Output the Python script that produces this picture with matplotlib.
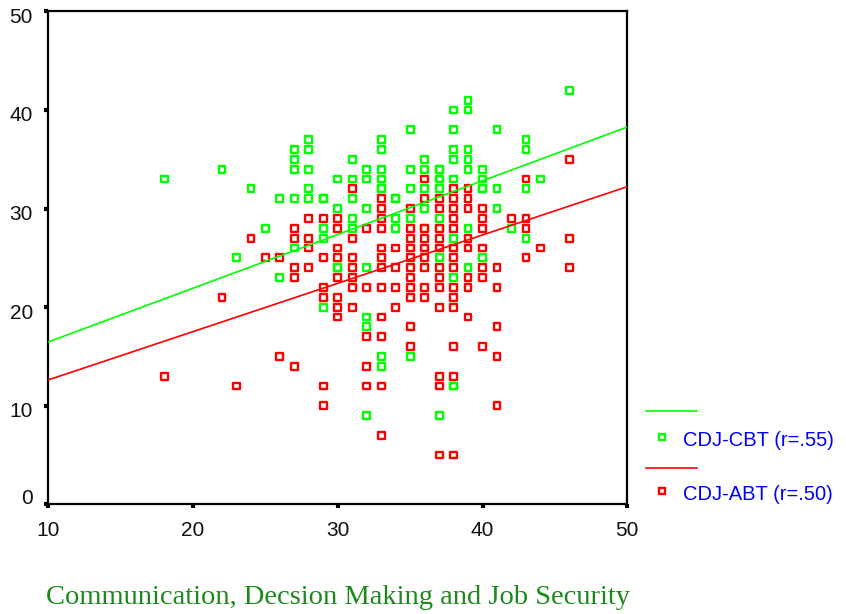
import matplotlib
matplotlib.use("Agg")
import matplotlib.pyplot as plt
import matplotlib.transforms as mtrans
from matplotlib.lines import Line2D
import numpy as np

# Communication, decision making and job security score (x) per group
cbt_x = [18, 22, 23, 24, 25, 26, 26,
         27, 27, 27, 27, 27, 28, 28, 28, 28, 28,
         29, 29, 29, 29, 29, 30, 30, 30, 30,
         31, 31, 31, 31, 31, 32, 32, 32, 32, 32, 32, 32,
         33, 33, 33, 33, 33, 33, 33, 33, 34, 34, 34, 34,
         35, 35, 35, 35, 35, 36, 36, 36, 36, 36,
         37, 37, 37, 37, 37, 37, 37, 37, 37,
         38, 38, 38, 38, 38, 38, 38, 38, 38,
         39, 39, 39, 39, 39, 39, 39, 40, 40, 40, 40, 40,
         41, 41, 41, 42, 43, 43, 43, 43, 44, 46]
cbt_y = [33, 34, 25, 32, 28, 31, 23,
         36, 35, 34, 31, 26, 37, 36, 34, 32, 31,
         31, 31, 28, 27, 20, 33, 30, 24, 24,
         35, 33, 31, 29, 28, 34, 33, 30, 24, 19, 18, 9,
         37, 36, 34, 33, 32, 32, 15, 14, 31, 31, 29, 28,
         38, 34, 32, 29, 15, 35, 34, 32, 30, 28,
         34, 34, 33, 33, 32, 29, 28, 25, 9,
         40, 38, 36, 35, 33, 27, 23, 12, 12,
         41, 40, 36, 35, 34, 28, 24, 34, 33, 32, 32, 25,
         38, 32, 30, 28, 37, 36, 32, 27, 33, 42]

abt_x = [18, 22, 23, 24, 25, 26, 26,
         27, 27, 27, 27, 27, 28, 28, 28, 28,
         29, 29, 29, 29, 29, 29,
         30, 30, 30, 30, 30, 30, 30, 30,
         31, 31, 31, 31, 31, 31, 31,
         32, 32, 32, 32, 32,
         33, 33, 33, 33, 33, 33, 33, 33, 33, 33, 33, 33,
         34, 34, 34, 34,
         35, 35, 35, 35, 35, 35, 35, 35, 35, 35, 35,
         36, 36, 36, 36, 36, 36, 36, 36, 36,
         37, 37, 37, 37, 37, 37, 37, 37, 37, 37, 37, 37,
         38, 38, 38, 38, 38, 38, 38, 38, 38, 38, 38, 38, 38, 38,
         39, 39, 39, 39, 39, 39, 39, 39,
         40, 40, 40, 40, 40, 40, 40,
         41, 41, 41, 41, 41, 42, 43, 43, 43, 43, 44, 46, 46, 46]
abt_y = [13, 21, 12, 27, 25, 25, 15,
         28, 27, 24, 23, 14, 29, 27, 26, 24,
         29, 25, 22, 21, 12, 10,
         29, 28, 26, 25, 23, 21, 20, 19,
         32, 27, 25, 24, 23, 22, 20,
         28, 22, 17, 14, 12,
         31, 30, 29, 28, 26, 25, 24, 22, 19, 17, 12, 7,
         26, 24, 22, 20,
         30, 28, 27, 26, 25, 24, 23, 22, 21, 18, 16,
         33, 31, 28, 27, 26, 25, 24, 22, 21,
         31, 30, 28, 27, 26, 24, 23, 22, 20, 13, 12, 5,
         32, 31, 30, 29, 28, 26, 25, 24, 22, 21, 20, 16, 13, 5,
         32, 31, 30, 27, 26, 23, 22, 19,
         30, 29, 28, 26, 24, 23, 16,
         24, 22, 18, 15, 10, 29, 33, 29, 28, 25, 26, 35, 27, 24]

# Fitted regression lines (intercept, slope)
cbt_fit = (11.02, 0.545)
abt_fit = (7.72, 0.49)

series_labels = ["CDJ-CBT (r=.55)", "CDJ-ABT (r=.50)"]
x_label = "Communication, Decsion Making and Job Security"
x_ticks = [10, 20, 30, 40, 50]
y_ticks = [0, 10, 20, 30, 40, 50]

GREEN = "#00ff00"
RED = "#ff0000"

W, H = 846, 614
fig = plt.figure(figsize=(W / 100, H / 100), dpi=100)
fig.patch.set_facecolor("white")


def fx(px):
    return px / W


def fy(py):
    return 1 - py / H


ax = fig.add_axes([fx(48.3), fy(504.3), fx(627.3) - fx(48.3), fy(11.4) - fy(504.3)])
ax.set_xlim(10, 50)
ax.set_ylim(0, 50)

msize = 24
ax.scatter(cbt_x, cbt_y, s=msize, marker="s", facecolors="none",
           edgecolors=GREEN, linewidths=1.7, zorder=3, clip_on=False)
ax.scatter(abt_x, abt_y, s=msize, marker="s", facecolors="none",
           edgecolors=RED, linewidths=1.7, zorder=4, clip_on=False)

xs = np.array([10, 50])
ax.plot(xs, cbt_fit[0] + cbt_fit[1] * xs, color=GREEN, lw=1.2, zorder=5)
ax.plot(xs, abt_fit[0] + abt_fit[1] * xs, color=RED, lw=1.2, zorder=5)

for sp in ax.spines.values():
    sp.set_linewidth(1.6)
    sp.set_color("black")

ax.set_xticks(x_ticks)
ax.set_yticks(y_ticks)
ax.set_xticklabels([str(v) for v in x_ticks])
ax.set_yticklabels([str(v) for v in y_ticks])
ax.tick_params(direction="out", length=3, width=3, color="black",
               labelsize=15, labelcolor="#111111")
ax.tick_params(axis="y", pad=8)
ax.tick_params(axis="x", pad=9)
for lab in ax.get_xticklabels() + ax.get_yticklabels():
    lab.set_family(["Liberation Sans", "DejaVu Sans"])

# y labels sit a little below their ticks; the zero label is lifted clear of the x labels
ylabs = ax.get_yticklabels()
for i, lab in enumerate(ylabs):
    dy = 8 if i == 0 else -4
    lab.set_transform(lab.get_transform() +
                      mtrans.ScaledTranslation(0, dy / 100, fig.dpi_scale_trans))

# legend drawn beside the plot
leg_items = [(411, 437, 441, GREEN, series_labels[0]),
             (468, 491, 495, RED, series_labels[1])]
for ly, my, ty, col, txt in leg_items:
    fig.add_artist(Line2D([fx(646), fx(697)], [fy(ly), fy(ly)],
                          color=col, lw=1.2, transform=fig.transFigure))
    fig.add_artist(Line2D([fx(662)], [fy(my)], marker="s", markersize=4.9,
                          markerfacecolor="none", markeredgecolor=col,
                          markeredgewidth=1.7, linestyle="none",
                          transform=fig.transFigure))
    fig.text(fx(683), fy(ty), txt, color="#0000ff", fontsize=14.5,
             family=["Liberation Sans", "DejaVu Sans"], ha="left", va="center")

fig.text(fx(337.7), fy(597), x_label, color="#1a8a1a", fontsize=20.5,
         family=["Liberation Serif", "DejaVu Serif"], ha="center", va="center")

fig.savefig("out.png", dpi=100, facecolor="white")
